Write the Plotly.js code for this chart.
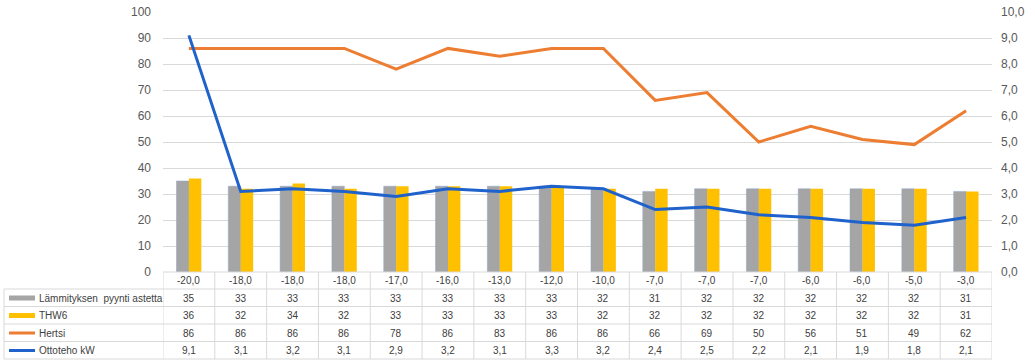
<!DOCTYPE html>
<html>
<head>
<meta charset="utf-8">
<script src="https://cdn.plot.ly/plotly-3.0.1.min.js"></script>
<style>html,body{margin:0;padding:0;background:#fff;}#chart{width:1035px;height:364px;}</style>
</head>
<body>
<div id="chart"></div>
<script>
const categories = ["-20,0","-18,0","-18,0","-18,0","-17,0","-16,0","-13,0","-12,0","-10,0","-7,0","-7,0","-7,0","-6,0","-6,0","-5,0","-3,0"];
const lammitys = [35,33,33,33,33,33,33,33,32,31,32,32,32,32,32,31];
const thw6 = [36,32,34,32,33,33,33,33,32,32,32,32,32,32,32,31];
const hertsi = [86,86,86,86,78,86,83,86,86,66,69,50,56,51,49,62];
const ottoteho = [9.1,3.1,3.2,3.1,2.9,3.2,3.1,3.3,3.2,2.4,2.5,2.2,2.1,1.9,1.8,2.1];
const seriesNames = ["Lämmityksen  pyynti astetta","THW6","Hertsi","Ottoteho kW"];
const leftTicks = [0,10,20,30,40,50,60,70,80,90,100];
const rightTicks = [0,1,2,3,4,5,6,7,8,9,10];

const colors = {gray:'#A5A5A5', yellow:'#FFC000', orange:'#ED7D31', blue:'#1F62CC'};
const idx = categories.map((_, i) => i);
const fmt1 = v => v.toFixed(1).replace('.', ',');

const traces = [
  {type:'bar', x: idx, y: lammitys, name: seriesNames[0], marker:{color:colors.gray, line:{color:'#8FA5C8', width:0.5}}, hoverinfo:'skip'},
  {type:'bar', x: idx, y: thw6, name: seriesNames[1], marker:{color:colors.yellow}, hoverinfo:'skip'},
  {type:'scatter', mode:'lines', x: idx, y: hertsi, name: seriesNames[2], line:{color:colors.orange, width:3}, hoverinfo:'skip'},
  {type:'scatter', mode:'lines', x: idx, y: ottoteho, name: seriesNames[3], yaxis:'y2', line:{color:colors.blue, width:3}, hoverinfo:'skip'}
];

// table geometry (paper coords)
const plotTop = 12, plotBottom = 272, plotLeft = 163, plotRight = 992;
const H = plotBottom - plotTop, W = plotRight - plotLeft;
const py = p => (plotBottom - p) / H;
const px = p => (p - plotLeft) / W;
const rowLines = [272, 289, 306.5, 324, 341.5, 359];
const rowCenters = [280.5, 298, 315.5, 333, 350.5];
const tableLeft = 4;
const gridCol = '#D9D9D9';

const shapes = [];
const annotations = [];
shapes.push({type:'line', xref:'paper', yref:'paper', x0:0, x1:1, y0:py(rowLines[0]), y1:py(rowLines[0]), line:{color:gridCol, width:1}});
for (let r = 1; r < rowLines.length; r++) {
  shapes.push({type:'line', xref:'paper', yref:'paper', x0:px(tableLeft), x1:1, y0:py(rowLines[r]), y1:py(rowLines[r]), line:{color:gridCol, width:1}});
}
for (let i = 0; i <= categories.length; i++) {
  shapes.push({type:'line', xref:'x', yref:'paper', x0:i-0.5, x1:i-0.5, y0:py(rowLines[0]), y1:py(rowLines[5]), line:{color:gridCol, width:1}});
}
shapes.push({type:'line', xref:'paper', yref:'paper', x0:px(tableLeft), x1:px(tableLeft), y0:py(rowLines[1]), y1:py(rowLines[5]), line:{color:gridCol, width:1}});

const txtFont = {family:'Liberation Sans, Arial, sans-serif', size:10, color:'#404040'};
categories.forEach((c, i) => {
  annotations.push({xref:'x', yref:'paper', x:i, y:py(rowCenters[0]), text:c, showarrow:false, font:txtFont, xanchor:'center', yanchor:'middle'});
});
const rows = [lammitys.map(String), thw6.map(String), hertsi.map(String), ottoteho.map(fmt1)];
rows.forEach((vals, r) => {
  vals.forEach((v, i) => {
    annotations.push({xref:'x', yref:'paper', x:i, y:py(rowCenters[r+1]), text:v, showarrow:false, font:txtFont, xanchor:'center', yanchor:'middle'});
  });
  annotations.push({xref:'paper', yref:'paper', x:px(37), y:py(rowCenters[r+1]), text:seriesNames[r], showarrow:false, font:txtFont, xanchor:'left', yanchor:'middle'});
});
[colors.gray, colors.yellow].forEach((c, r) => {
  const cy = rowCenters[r+1];
  shapes.push({type:'rect', xref:'paper', yref:'paper', x0:px(9), x1:px(35), y0:py(cy-2.5), y1:py(cy+2.5), fillcolor:c, line:{width:0}});
});
[colors.orange, colors.blue].forEach((c, r) => {
  const cy = rowCenters[r+3];
  shapes.push({type:'line', xref:'paper', yref:'paper', x0:px(9), x1:px(35), y0:py(cy), y1:py(cy), line:{color:c, width:3}});
});

const tickFont = {family:'Liberation Sans, Arial, sans-serif', size:12, color:'#595959'};
const layout = {
  width:1035, height:364,
  margin:{l:plotLeft, r:1035-plotRight, t:plotTop, b:364-plotBottom, pad:0},
  paper_bgcolor:'#fff', plot_bgcolor:'#fff',
  separators:', ',
  showlegend:false,
  barmode:'group', bargap:0.52, bargroupgap:0,
  xaxis:{range:[-0.5, categories.length-0.5], tickvals:idx, showticklabels:false, showgrid:false, zeroline:false, showline:false, ticks:''},
  yaxis:{range:[0,100], tickvals:leftTicks, ticktext:leftTicks.map(String), showgrid:true, gridcolor:gridCol, gridwidth:1, zeroline:false, showline:false, tickfont:tickFont, ticks:'', ticklabelstandoff:11},
  yaxis2:{range:[0,10], overlaying:'y', side:'right', tickvals:rightTicks, ticktext:rightTicks.map(fmt1), showgrid:false, zeroline:false, showline:false, tickfont:tickFont, ticks:'', ticklabelstandoff:8},
  shapes: shapes,
  annotations: annotations
};

Plotly.newPlot('chart', traces, layout, {staticPlot:true, displayModeBar:false});
</script>
</body>
</html>
